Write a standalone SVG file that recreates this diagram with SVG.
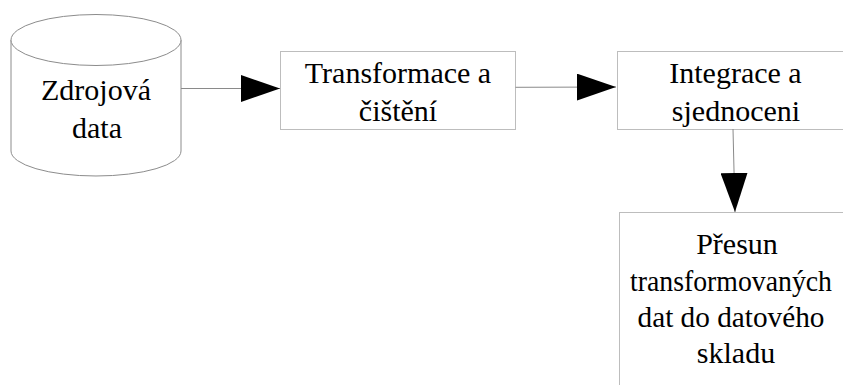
<svg xmlns="http://www.w3.org/2000/svg" width="843" height="385" viewBox="0 0 843 385">
  <style>
    .box { fill: #ffffff; stroke: #bdbdbd; stroke-width: 1; }
    .cyl { fill: #ffffff; stroke: #8c8c8c; stroke-width: 1; }
    .edge { fill: none; stroke: #8a8a8a; stroke-width: 1; }
  </style>
  <defs>
    <marker id="arrow" markerUnits="userSpaceOnUse" markerWidth="39" markerHeight="27" refX="39" refY="13.5" orient="auto" viewBox="0 0 39 27">
      <path d="M0,0 L39,13.5 L0,27 Z" fill="#000000"/>
    </marker>
  </defs>
  <rect width="843" height="385" fill="#ffffff"/>

  <g font-family="Liberation Serif" font-size="30" fill="#000000" text-anchor="middle">
    <!-- Source database cylinder -->
    <g id="zdrojova-data">
      <path class="cyl" d="M11,40 L11,151 A85,25 0 0 0 181,151 L181,40"/>
      <ellipse class="cyl" cx="96" cy="40" rx="85" ry="25.5"/>
      <text x="96" y="100">Zdrojová</text>
      <text x="97" y="138">data</text>
    </g>

    <!-- Transformation step -->
    <g id="transformace">
      <rect class="box" x="280.5" y="51.5" width="235" height="78"/>
      <text x="398" y="83">Transformace a</text>
      <text x="398" y="121">čištění</text>
    </g>

    <!-- Integration step -->
    <g id="integrace">
      <rect class="box" x="617.5" y="51.5" width="236" height="78"/>
      <text x="735.5" y="83">Integrace a</text>
      <text x="736" y="121">sjednoceni</text>
    </g>

    <!-- Load into the warehouse -->
    <g id="presun">
      <rect class="box" x="619.5" y="212.5" width="236" height="190"/>
      <text x="737" y="254">Přesun</text>
      <text x="731" y="290.5" font-size="29" textLength="202" lengthAdjust="spacingAndGlyphs">transformovaných</text>
      <text x="731" y="327" textLength="187" lengthAdjust="spacingAndGlyphs">dat do datového</text>
      <text x="736" y="363">skladu</text>
    </g>
  </g>

  <!-- Connectors -->
  <g id="connectors">
    <line class="edge" x1="181" y1="88.5" x2="280" y2="88.5" marker-end="url(#arrow)"/>
    <line class="edge" x1="515.5" y1="87.3" x2="616" y2="87" marker-end="url(#arrow)"/>
    <line class="edge" x1="733" y1="129" x2="735" y2="212" marker-end="url(#arrow)"/>
  </g>
</svg>
